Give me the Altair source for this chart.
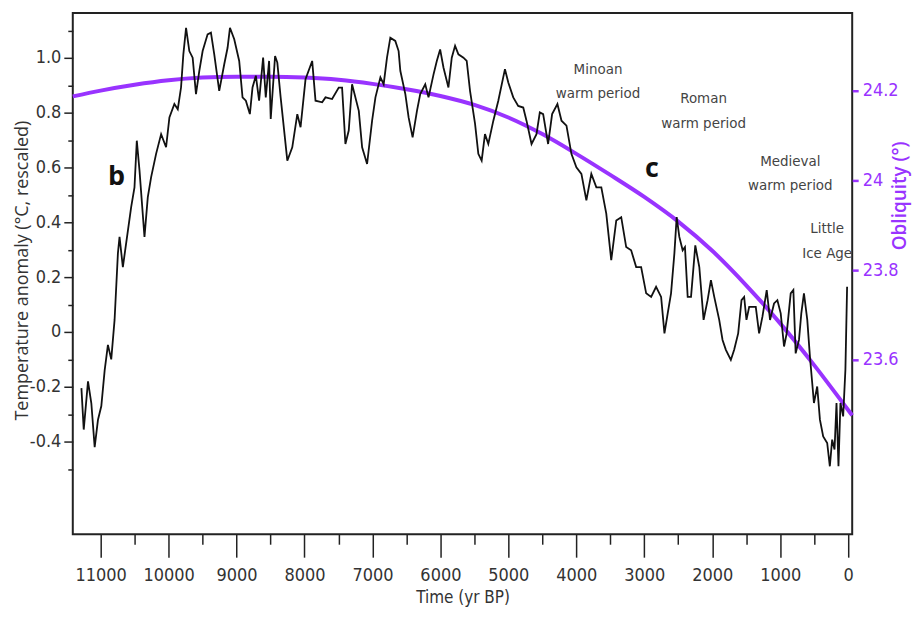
import altair as alt
import pandas as pd

# ---------------- data ----------------
temp_years = [11283, 11249, 11186, 11137, 11088, 11039, 10990, 10941, 10893, 10844,
              10795, 10746, 10722, 10673, 10551, 10502, 10468, 10428, 10355, 10306,
              10257, 10184, 10110, 10037, 9988, 9915, 9865, 9817, 9783, 9743,
              9695, 9646, 9597, 9548, 9499, 9426, 9377, 9328, 9255, 9181,
              9132, 9097, 9034, 8961, 8912, 8863, 8804, 8765, 8716, 8668,
              8609, 8570, 8521, 8497, 8433, 8400, 8351, 8253, 8180, 8106,
              8058, 7985, 7887, 7838, 7740, 7691, 7594, 7496, 7447, 7398,
              7349, 7300, 7201, 7152, 7079, 7005, 6956, 6883, 6835, 6786,
              6737, 6664, 6615, 6590, 6516, 6468, 6409, 6345, 6297, 6223,
              6175, 6101, 6053, 6004, 5955, 5882, 5833, 5784, 5735, 5661,
              5613, 5564, 5490, 5442, 5393, 5344, 5295, 5221, 5148, 5050,
              5001, 4928, 4855, 4781, 4733, 4659, 4586, 4537, 4488, 4415,
              4356, 4278, 4218, 4145, 4072, 3999, 3925, 3852, 3779, 3705,
              3632, 3559, 3486, 3412, 3339, 3266, 3193, 3119, 3046, 2972,
              2899, 2826, 2752, 2703, 2655, 2606, 2557, 2523, 2484, 2435,
              2401, 2361, 2312, 2249, 2190, 2127, 2068, 2019, 1970, 1897,
              1848, 1799, 1726, 1677, 1618, 1569, 1530, 1496, 1456, 1408,
              1359, 1310, 1261, 1198, 1149, 1090, 1041, 992, 943, 904,
              845, 806, 772, 723, 689, 650, 601, 562, 528, 503,
              455, 415, 367, 308, 269, 235, 200, 171, 142, 113,
              73, 40, 15]
temp_values = [-0.205, -0.356, -0.18, -0.26, -0.42, -0.32, -0.27, -0.14, -0.047, -0.10,
               0.044, 0.287, 0.347, 0.237, 0.456, 0.528, 0.698, 0.589, 0.347, 0.492,
               0.565, 0.65, 0.722, 0.674, 0.783, 0.832, 0.813, 0.892, 1.013, 1.11,
               1.025, 1.001, 0.868, 0.953, 1.025, 1.086, 1.092, 1.013, 0.88, 0.977,
               1.037, 1.11, 1.068, 0.989, 0.856, 0.844, 0.795, 0.892, 0.935, 0.844,
               1.001, 0.856, 0.989, 0.777, 1.007, 0.983, 0.856, 0.625, 0.674, 0.795,
               0.747, 0.922, 0.989, 0.844, 0.838, 0.856, 0.85, 0.892, 0.892, 0.686,
               0.735, 0.904, 0.807, 0.674, 0.613, 0.771, 0.856, 0.929, 0.904, 1.001,
               1.074, 1.062, 1.025, 0.953, 0.868, 0.783, 0.71, 0.807, 0.868, 0.904,
               0.856, 0.94, 0.989, 1.031, 0.965, 0.892, 1.001, 1.044, 1.013, 1.001,
               0.989, 0.88, 0.759, 0.65, 0.625, 0.722, 0.686, 0.771, 0.844, 0.959,
               0.91, 0.856, 0.825, 0.819, 0.771, 0.686, 0.722, 0.801, 0.795, 0.686,
               0.795, 0.832, 0.771, 0.753, 0.65, 0.601, 0.577, 0.48, 0.577, 0.528,
               0.528, 0.432, 0.262, 0.407, 0.419, 0.31, 0.298, 0.237, 0.237, 0.141,
               0.128, 0.165, 0.128, -0.005, 0.068, 0.141, 0.286, 0.419, 0.347, 0.298,
               0.31, 0.128, 0.128, 0.316, 0.237, 0.044, 0.116, 0.189, 0.128, 0.044,
               -0.029, -0.065, -0.102, -0.065, -0.005, 0.116, 0.128, 0.044, 0.092, 0.092,
               0.092, -0.005, 0.056, 0.153, 0.044, 0.104, 0.116, 0.068, -0.053, -0.005,
               0.141, 0.153, -0.078, -0.029, 0.068, 0.141, 0.044, -0.09, -0.187, -0.259,
               -0.199, -0.32, -0.381, -0.405, -0.49, -0.393, -0.429, -0.259, -0.49, -0.259,
               -0.308, -0.138, 0.165]

obl_years = [11410, 11000, 10500, 10000, 9500, 9000, 8500, 8000, 7500, 7000,
             6500, 6000, 5500, 5000, 4500, 4000, 3500, 3000, 2500, 2000,
             1500, 1000, 500, 0, -60]
obl_values = [24.187, 24.200, 24.213, 24.223, 24.229, 24.231, 24.231, 24.229, 24.224, 24.215,
              24.203, 24.188, 24.168, 24.140, 24.103, 24.059, 24.012, 23.963, 23.908, 23.843,
              23.766, 23.681, 23.588, 23.488, 23.476]

x_ticks = list(range(0, 11001, 500))
temp_ticks = [-0.5, -0.4, -0.3, -0.2, -0.1, 0.0, 0.1, 0.2, 0.3, 0.4, 0.5, 0.6, 0.7, 0.8, 0.9, 1.0, 1.1]
obl_ticks = [23.6, 23.8, 24.0, 24.2]

letter_text = ["b", "c"]
letter_years = [10766, 2889]
letter_values = [0.564, 0.593]

period_text = ["Minoan", "warm period", "Roman", "warm period",
               "Medieval", "warm period", "Little", "Ice Age"]
period_years = [3681, 3681, 2127, 2127, 851, 851, 308, 308]
period_values = [0.96, 0.873, 0.855, 0.764, 0.625, 0.538, 0.378, 0.287]

# ---------------- tables ----------------
temp_df = pd.DataFrame({"yr": temp_years, "temp": temp_values})
obl_df = pd.DataFrame({"yr": obl_years, "obl": obl_values})
letter_df = pd.DataFrame({"yr": letter_years, "temp": letter_values, "txt": letter_text})
period_df = pd.DataFrame({"yr": period_years, "temp": period_values, "txt": period_text})

NARROW = "Liberation Sans Narrow, Arial Narrow, DejaVu Sans Condensed, sans-serif"
PURPLE = "#9933ff"
INK = "#222222"

x_scale = alt.Scale(domain=[-60, 11410], reverse=True, nice=False, zero=False)
x_axis = alt.Axis(
    values=x_ticks,
    title="Time (yr BP)",
    labelExpr="datum.value % 1000 == 0 ? format(datum.value, 'd') : ''",
    tickSize={"condition": {"test": "datum.value % 1000 != 0", "value": 10}, "value": 23},
    tickColor=INK, tickWidth=1.5, domain=False, grid=False,
    labelFont=NARROW, labelFontSize=18, labelColor="#333333", labelPadding=9,
    titleFont=NARROW, titleFontSize=17, titleColor="#333333", titleFontWeight="normal",
    titleY=63, titleBaseline="middle",
)
x_enc = alt.X("yr:Q", scale=x_scale, axis=x_axis)

temp_scale = alt.Scale(domain=[-0.738, 1.164], nice=False, zero=False)
temp_axis = alt.Axis(
    values=temp_ticks,
    title="Temperature anomaly (°C, rescaled)",
    labelExpr="abs(round(datum.value*10)) % 2 == 1 ? '' : (abs(datum.value) < 0.001 ? '0' : (datum.value < 0 ? '-' : '') + format(abs(datum.value), '.1f'))",
    tickSize={"condition": {"test": "abs(round(datum.value*10)) % 2 == 1", "value": 5}, "value": 9},
    tickColor=INK, tickWidth=1.5, domain=False, grid=False,
    labelFont=NARROW, labelFontSize=18, labelColor="#333333", labelPadding=3,
    titleFont="Open Sans", titleFontSize=18, titleColor="#333333", titleFontWeight="normal",
    titleAngle=270, titleX=-50, titleY=258, titleAlign="center", titleBaseline="middle",
)
temp_y = alt.Y("temp:Q", scale=temp_scale, axis=temp_axis)

obl_scale = alt.Scale(domain=[23.211, 24.373], nice=False, zero=False)
obl_axis = alt.Axis(
    orient="right",
    values=obl_ticks,
    title="Obliquity (°)",
    labelExpr="format(datum.value, '.1~f')",
    tickSize=6, tickColor=PURPLE, tickWidth=2.5, domain=False, grid=False,
    labelFont=NARROW, labelFontSize=18, labelColor=PURPLE, labelPadding=4,
    titleFont="Open Sans", titleFontSize=19, titleColor=PURPLE, titleFontWeight=600,
    titleAngle=270, titleX=47, titleY=183, titleAlign="center", titleBaseline="middle",
)

obl_chart = alt.Chart(obl_df).mark_line(color=PURPLE, strokeWidth=4, interpolate="monotone").encode(
    x=x_enc, y=alt.Y("obl:Q", scale=obl_scale, axis=obl_axis)
)
temp_chart = alt.Chart(temp_df).mark_line(color="#111111", strokeWidth=1.8).encode(
    x=x_enc, y=temp_y
)
letters = alt.Chart(letter_df).mark_text(
    font="Open Sans", fontSize=27, fontWeight="bold", color="#111111",
    align="center", baseline="middle"
).encode(x=x_enc, y=temp_y, text="txt:N")
periods = alt.Chart(period_df).mark_text(
    font=NARROW, fontSize=15, color="#444444", align="center", baseline="middle"
).encode(x=x_enc, y=temp_y, text="txt:N")

chart = alt.layer(
    obl_chart,
    alt.layer(temp_chart, letters, periods),
).resolve_scale(y="independent").properties(
    width=782, height=523,
    autosize=alt.AutoSizeParams(type="none"),
    padding={"left": 65, "top": 4, "right": 60, "bottom": 72},
    background="white",
).configure_view(stroke=INK, strokeWidth=2)

chart.save("out.html", embed_options={"renderer": "svg", "actions": False})
